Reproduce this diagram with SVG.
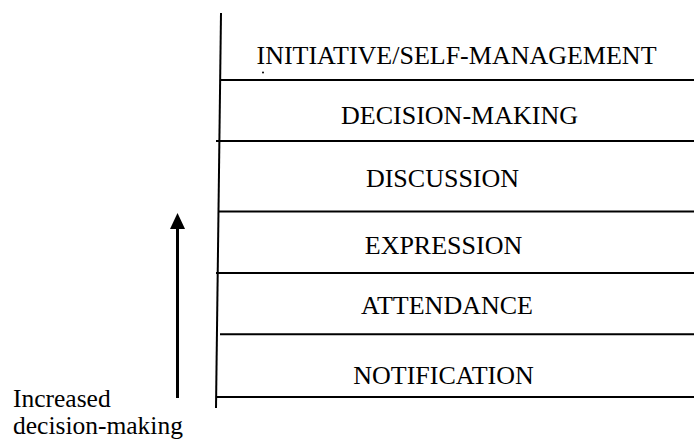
<svg xmlns="http://www.w3.org/2000/svg" width="694" height="441" viewBox="0 0 694 441">
<defs>
<style>
.t{font-family:"Liberation Serif","Times New Roman",serif;font-size:26px;fill:#000}
.c{text-anchor:middle}
.s{font-size:25.5px}
.l{stroke:#000;stroke-width:2;fill:none}
</style>
</defs>
<rect width="694" height="441" fill="#fff"/>
<g id="connectors">
<line class="l" x1="221" y1="13" x2="216" y2="408"/>
<line class="l" x1="220" y1="80" x2="694" y2="80"/>
<line class="l" x1="216" y1="141" x2="694" y2="141"/>
<line class="l" x1="219" y1="211.5" x2="694" y2="211.5"/>
<line class="l" x1="216" y1="273" x2="694" y2="273"/>
<line class="l" x1="220" y1="334.3" x2="694" y2="334.3"/>
<line class="l" x1="216" y1="397" x2="694" y2="397"/>
<line x1="177.5" y1="398" x2="177.5" y2="228" stroke="#000" stroke-width="3"/>
<path d="M170,229 L177.5,213 L185,229 Z" fill="#000"/>
</g>
<g id="n-initiative"><text class="t c" x="456.5" y="64">INITIATIVE/SELF-MANAGEMENT</text><circle cx="263" cy="72.5" r="1" fill="#000"/></g>
<g id="n-decision"><text class="t c" x="459.5" y="124.3">DECISION-MAKING</text></g>
<g id="n-discussion"><text class="t c" x="442.5" y="186.7">DISCUSSION</text></g>
<g id="n-expression"><text class="t c" x="443.5" y="254.3">EXPRESSION</text></g>
<g id="n-attendance"><text class="t c" x="447" y="314">ATTENDANCE</text></g>
<g id="n-notification"><text class="t c" x="443.5" y="384">NOTIFICATION</text></g>
<g id="n-label"><text class="t s" x="13" y="406.5">Increased</text><text class="t s" x="13" y="434">decision-making</text></g>
</svg>
